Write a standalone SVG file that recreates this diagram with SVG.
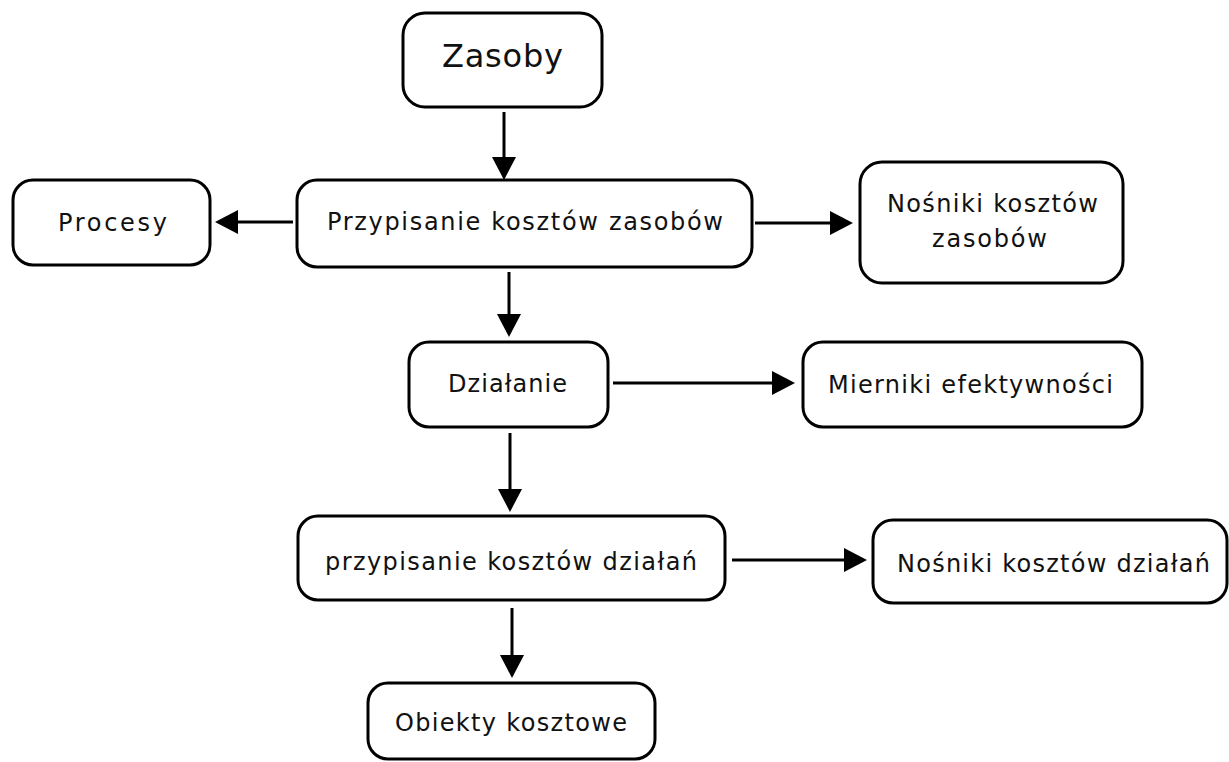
<svg xmlns="http://www.w3.org/2000/svg" width="1229" height="762" viewBox="0 0 1229 762">
<style>
.box{fill:#fff;stroke:#000;stroke-width:3}
.t{font-family:"DejaVu Sans",Verdana,sans-serif;font-size:24px;fill:#111}
.c{stroke:#000;stroke-width:3;fill:none;marker-end:url(#ah)}
</style>
<defs>
<marker id="ah" markerUnits="userSpaceOnUse" markerWidth="24" markerHeight="26" refX="0" refY="12" orient="auto" overflow="visible">
<path d="M0,0 L23,12 L0,24 Z" fill="#000"/>
</marker>
</defs>
<rect width="1229" height="762" fill="#fff"/>
<g id="connectors">
<line class="c" x1="504" y1="112" x2="504" y2="157"/>
<line class="c" x1="293" y1="222" x2="238" y2="222"/>
<line class="c" x1="755" y1="223" x2="830" y2="223"/>
<line class="c" x1="509" y1="272" x2="509" y2="314"/>
<line class="c" x1="613" y1="383" x2="772" y2="383"/>
<line class="c" x1="510" y1="433" x2="510" y2="489"/>
<line class="c" x1="732" y1="560" x2="844" y2="560"/>
<line class="c" x1="512" y1="608" x2="512" y2="655"/>
</g>
<g id="zasoby">
<rect class="box" x="403" y="13" width="199" height="94" rx="22"/>
<text class="t" x="442" y="67" style="font-size:32px" textLength="121" lengthAdjust="spacing">Zasoby</text>
</g>
<g id="procesy">
<rect class="box" x="13" y="180" width="197" height="85" rx="20"/>
<text class="t" x="58" y="231" textLength="109" lengthAdjust="spacing">Procesy</text>
</g>
<g id="przypisanie-zasobow">
<rect class="box" x="297" y="180" width="455" height="87" rx="20"/>
<text class="t" x="327" y="230" textLength="396" lengthAdjust="spacing">Przypisanie kosztów zasobów</text>
</g>
<g id="nosniki-zasobow">
<rect class="box" x="860" y="162" width="263" height="121" rx="22"/>
<text class="t" x="887" y="212" textLength="211" lengthAdjust="spacing">Nośniki kosztów</text>
<text class="t" x="932" y="247" textLength="115" lengthAdjust="spacing">zasobów</text>
</g>
<g id="dzialanie">
<rect class="box" x="409" y="342" width="199" height="85" rx="20"/>
<text class="t" x="448" y="392" textLength="119" lengthAdjust="spacing">Działanie</text>
</g>
<g id="mierniki">
<rect class="box" x="803" y="342" width="339" height="85" rx="20"/>
<text class="t" x="828" y="393" textLength="285" lengthAdjust="spacing">Mierniki efektywności</text>
</g>
<g id="przypisanie-dzialan">
<rect class="box" x="298" y="516" width="427" height="84" rx="20"/>
<text class="t" x="325" y="570" textLength="372" lengthAdjust="spacing">przypisanie kosztów działań</text>
</g>
<g id="nosniki-dzialan">
<rect class="box" x="873" y="520" width="354" height="83" rx="20"/>
<text class="t" x="897" y="572" textLength="313" lengthAdjust="spacing">Nośniki kosztów działań</text>
</g>
<g id="obiekty">
<rect class="box" x="368" y="683" width="287" height="76" rx="20"/>
<text class="t" x="395" y="731" textLength="232" lengthAdjust="spacing">Obiekty kosztowe</text>
</g>
</svg>
